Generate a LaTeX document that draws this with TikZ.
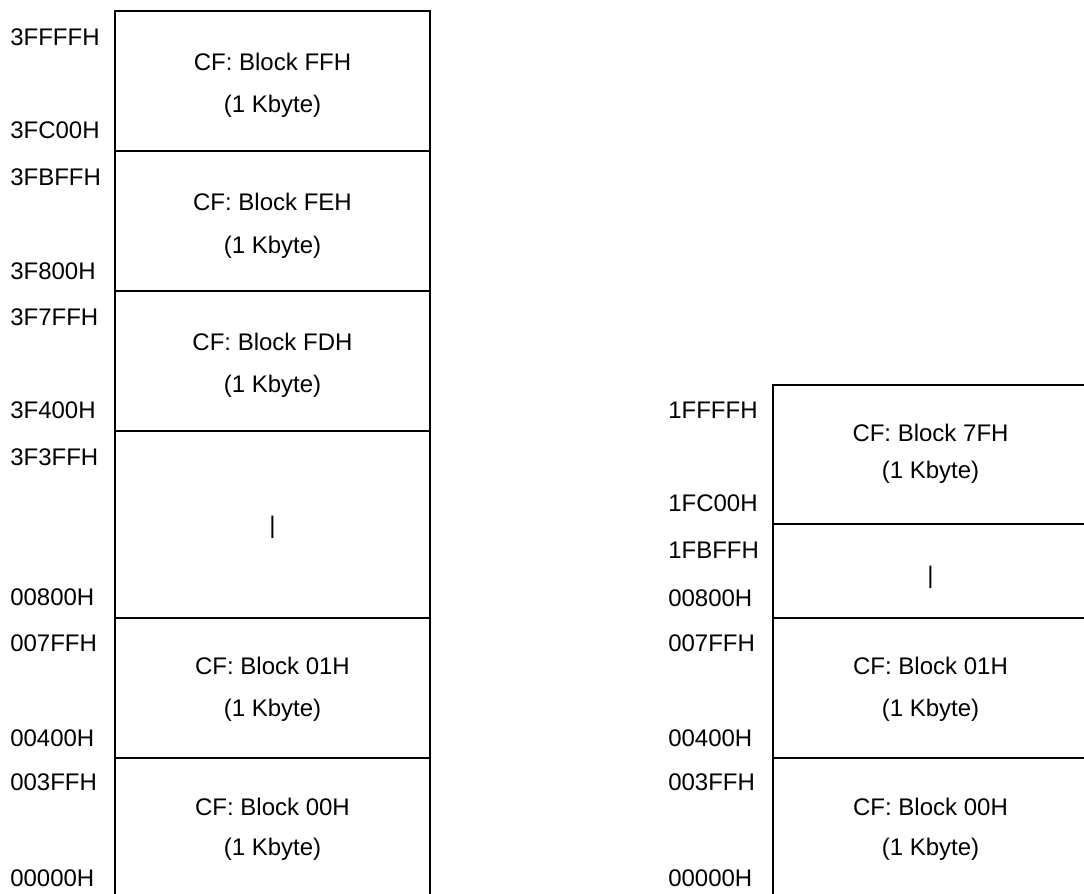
\documentclass[tikz,border=0pt]{standalone}
\usepackage{fontspec}
\setmainfont{Liberation Sans}
\begin{document}
\begin{tikzpicture}[x=0.75pt,y=-0.75pt,
  blk/.style={draw=black,line width=1.7pt,rectangle,inner sep=0pt,minimum width=315*0.75pt},
  addr/.style={anchor=west,inner sep=0pt,font=\fontsize{18pt}{20pt}\selectfont},
  txt/.style={inner sep=0pt,font=\fontsize{18pt}{20pt}\selectfont}]
\useasboundingbox[fill=white] (0,0) rectangle (1084,893);
% left column blocks
\node[blk,minimum height=140*0.75pt] (lff) at (272.5,81) {};
\node[blk,minimum height=140*0.75pt] (lfe) at (272.5,221) {};
\node[blk,minimum height=140*0.75pt] (lfd) at (272.5,361) {};
\node[blk,minimum height=187*0.75pt] (lmid) at (272.5,524.5) {};
\node[blk,minimum height=140*0.75pt] (l01) at (272.5,688) {};
\node[blk,minimum height=140*0.75pt] (l00) at (272.5,828) {};
% right column blocks
\node[blk,minimum height=139*0.75pt] (r7f) at (930.5,454.5) {};
\node[blk,minimum height=94*0.75pt] (rmid) at (930.5,571) {};
\node[blk,minimum height=140*0.75pt] (r01) at (930.5,688) {};
\node[blk,minimum height=140*0.75pt] (r00) at (930.5,828) {};
% left texts
\node[txt] (tlff1) at (272.5,62) {CF: Block FFH};
\node[txt] (tlff2) at (272.5,106) {(1 Kbyte)};
\node[txt] (tlfe1) at (272.5,202) {CF: Block FEH};
\node[txt] (tlfe2) at (272.5,247) {(1 Kbyte)};
\node[txt] (tlfd1) at (272.5,342) {CF: Block FDH};
\node[txt] (tlfd2) at (272.5,386) {(1 Kbyte)};
\node[txt] (tlmid) at (272.5,527) {|};
\node[txt] (tl011) at (272.5,666) {CF: Block 01H};
\node[txt] (tl012) at (272.5,710) {(1 Kbyte)};
\node[txt] (tl001) at (272.5,807) {CF: Block 00H};
\node[txt] (tl002) at (272.5,849) {(1 Kbyte)};
% right texts
\node[txt] (tr7f1) at (930.5,433) {CF: Block 7FH};
\node[txt] (tr7f2) at (930.5,472) {(1 Kbyte)};
\node[txt] (trmid) at (930.5,577) {|};
\node[txt] (tr011) at (930.5,666) {CF: Block 01H};
\node[txt] (tr012) at (930.5,710) {(1 Kbyte)};
\node[txt] (tr001) at (930.5,807) {CF: Block 00H};
\node[txt] (tr002) at (930.5,849) {(1 Kbyte)};
% left addresses
\node[addr] (a1) at (10,37) {3FFFFH};
\node[addr] (a2) at (10,130) {3FC00H};
\node[addr] (a3) at (10,177) {3FBFFH};
\node[addr] (a4) at (10,271) {3F800H};
\node[addr] (a5) at (10,317) {3F7FFH};
\node[addr] (a6) at (10,410) {3F400H};
\node[addr] (a7) at (10,457) {3F3FFH};
\node[addr] (a8) at (10,597) {00800H};
\node[addr] (a9) at (10,643) {007FFH};
\node[addr] (a10) at (10,738) {00400H};
\node[addr] (a11) at (10,782) {003FFH};
\node[addr] (a12) at (10,878) {00000H};
% right addresses
\node[addr] (b1) at (668,410) {1FFFFH};
\node[addr] (b2) at (668,503) {1FC00H};
\node[addr] (b3) at (668,550) {1FBFFH};
\node[addr] (b4) at (668,598) {00800H};
\node[addr] (b5) at (668,643) {007FFH};
\node[addr] (b6) at (668,738) {00400H};
\node[addr] (b7) at (668,782) {003FFH};
\node[addr] (b8) at (668,878) {00000H};
\end{tikzpicture}
\end{document}
